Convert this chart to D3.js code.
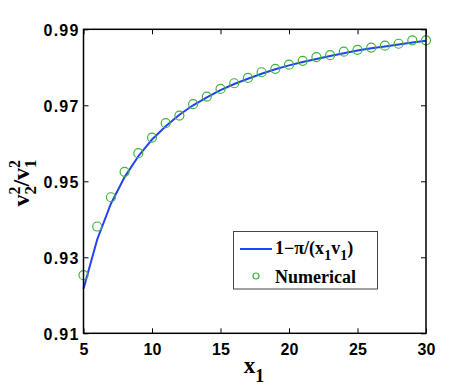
<!DOCTYPE html>
<html><head><meta charset="utf-8">
<script src="https://cdn.jsdelivr.net/npm/d3@7"></script>
<style>body{margin:0;background:#fff}svg{display:block}</style>
</head><body>
<svg id="c" width="471" height="388"></svg>
<script>
const xTicks = [5,10,15,20,25,30];
const yTicks = [0.91,0.93,0.95,0.97,0.99];
const yTickLabels = ["0.91","0.93","0.95","0.97","0.99"];
const lineX = [5,6,7,8,9,10,11,12,13,14,15,16,17,18,19,20,21,22,23,24,25,26,27,28,29,30];
const lineY = [0.9217,0.9347,0.9441,0.9511,0.9566,0.9610,0.9645,0.9675,0.9700,0.9721,0.9740,0.9756,0.9770,0.9783,0.9795,0.9805,0.9814,0.9822,0.9830,0.9837,0.9844,0.9850,0.9855,0.9860,0.9865,0.9870];
const numX = [5,6,7,8,9,10,11,12,13,14,15,16,17,18,19,20,21,22,23,24,25,26,27,28,29,30];
const numY = [0.9253,0.9381,0.9458,0.9525,0.9574,0.9615,0.9653,0.9673,0.9703,0.9723,0.9743,0.9758,0.9772,0.9787,0.9796,0.9807,0.9817,0.9827,0.9832,0.9841,0.9846,0.9852,0.9857,0.9862,0.9871,0.9871];

const svg = d3.select("#c");
const L=83.5, R=426, T=29.3, B=333.3;
const x = d3.scaleLinear().domain([5,30]).range([L,R]);
const y = d3.scaleLinear().domain([0.91,0.99]).range([B,T]);
const tickFont = "bold 16px 'Liberation Sans', Arial, sans-serif";

// axes
const gx = svg.append("g").attr("transform",`translate(0,${B})`)
  .call(d3.axisBottom(x).tickValues(xTicks).tickSizeInner(-5).tickSizeOuter(0).tickPadding(10).tickFormat(d3.format("d")));
const gxt = svg.append("g").attr("transform",`translate(0,${T})`)
  .call(d3.axisTop(x).tickValues(xTicks).tickSizeInner(-5).tickSizeOuter(0).tickFormat(""));
const gy = svg.append("g").attr("transform",`translate(${L},0)`)
  .call(d3.axisLeft(y).tickValues(yTicks).tickSizeInner(-5).tickSizeOuter(0).tickPadding(4).tickFormat((d,i)=>yTickLabels[i]));
const gyr = svg.append("g").attr("transform",`translate(${R},0)`)
  .call(d3.axisRight(y).tickValues(yTicks).tickSizeInner(-5).tickSizeOuter(0).tickFormat(""));
[gx,gxt,gy,gyr].forEach(g=>{
  g.select(".domain").remove();
  g.selectAll(".tick line").attr("stroke","#000").attr("stroke-width",1);
  g.selectAll("text").style("font",tickFont).attr("fill","#000");
});
gy.selectAll("text").attr("dy","0.36em").style("letter-spacing","1.2px");

// data
const line = d3.line().x((d,i)=>x(lineX[i])).y(d=>y(d));
svg.append("path").datum(lineY).attr("d",line).attr("fill","none")
  .attr("stroke","#2442f5").attr("stroke-width",2);
svg.append("g").selectAll("circle").data(numY).join("circle")
  .attr("cx",(d,i)=>x(numX[i])).attr("cy",d=>y(d)).attr("r",4.5)
  .attr("fill","none").attr("stroke","#3cb43c").attr("stroke-width",1.2);

// frame
svg.append("rect").attr("x",L).attr("y",T).attr("width",R-L).attr("height",B-T)
  .attr("fill","none").attr("stroke","#000").attr("stroke-width",1.5);

const serif = "'Liberation Serif','Times New Roman',serif";
// x label
const xl = svg.append("text").attr("x",254).attr("y",373).attr("text-anchor","middle")
  .style("font-family",serif).style("font-weight","bold").style("font-size","23px");
xl.append("tspan").text("x");
xl.append("tspan").attr("dy",9).style("font-size","18px").text("1");

// y label
const yl = svg.append("text").attr("transform","translate(29,183) rotate(-90)").attr("text-anchor","middle")
  .style("font-family",serif).style("font-weight","bold").style("font-size","24px");
yl.append("tspan").text("v");
yl.append("tspan").attr("dy",7).style("font-size","17px").text("2");
yl.append("tspan").attr("dx",-8.5).attr("dy",-16).style("font-size","16px").text("2");
yl.append("tspan").attr("dy",9).text("/");
yl.append("tspan").text("v");
yl.append("tspan").attr("dy",7).style("font-size","17px").text("1");
yl.append("tspan").attr("dx",-8.5).attr("dy",-16).style("font-size","16px").text("2");

// legend
const lg = svg.append("g");
lg.append("rect").attr("x",233.5).attr("y",231.5).attr("width",144).attr("height",57.5)
  .attr("fill","#fff").attr("stroke","#444").attr("stroke-width",1);
lg.append("line").attr("x1",240).attr("x2",272).attr("y1",249).attr("y2",249)
  .attr("stroke","#2442f5").attr("stroke-width",2);
lg.append("circle").attr("cx",256).attr("cy",276).attr("r",3).attr("fill","none")
  .attr("stroke","#3cb43c").attr("stroke-width",1.2);
const t1 = lg.append("text").attr("x",275).attr("y",254)
  .style("font-family",serif).style("font-weight","bold").style("font-size","18px");
t1.append("tspan").text("1\u2212\u03c0/(x");
t1.append("tspan").attr("dy",6).style("font-size","14px").text("1");
t1.append("tspan").attr("dy",-6).text("v");
t1.append("tspan").attr("dy",6).style("font-size","14px").text("1");
t1.append("tspan").attr("dy",-6).text(")");
lg.append("text").attr("x",275).attr("y",283).text("Numerical")
  .style("font-family",serif).style("font-weight","bold").style("font-size","18px");
</script>
</body></html>
